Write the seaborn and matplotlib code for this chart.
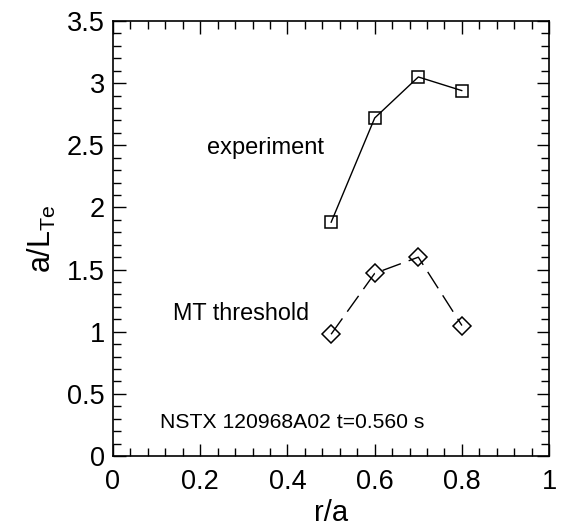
import matplotlib
matplotlib.use("Agg")
import matplotlib.pyplot as plt
import seaborn as sns
from matplotlib.ticker import MultipleLocator, FormatStrFormatter

# data
r_over_a = [0.5, 0.6, 0.7, 0.8]
experiment = [1.88, 2.72, 3.05, 2.94]
mt_threshold = [0.98, 1.47, 1.60, 1.05]

sns.set_style("ticks")
plt.rcParams["font.family"] = ["Liberation Sans", "DejaVu Sans"]
plt.rcParams["text.color"] = "black"
plt.rcParams["axes.labelcolor"] = "black"
plt.rcParams["xtick.color"] = "black"
plt.rcParams["ytick.color"] = "black"

fig = plt.figure(figsize=(5.65, 5.26), dpi=100)
ax = fig.add_axes([0.2, 0.133, 0.772, 0.827])

sns.lineplot(x=r_over_a, y=experiment, ax=ax, color="black", linewidth=1.0,
             marker="s", markersize=9, markerfacecolor="none",
             markeredgecolor="black", markeredgewidth=1.1)
sns.lineplot(x=r_over_a, y=mt_threshold, ax=ax, color="black", linewidth=1.0,
             dashes=(14, 6), marker="D", markersize=9.5, markerfacecolor="none",
             markeredgecolor="black", markeredgewidth=1.1)

ax.set_xlim(0, 1)
ax.set_ylim(0, 3.5)
ax.xaxis.set_major_locator(MultipleLocator(0.2))
ax.xaxis.set_minor_locator(MultipleLocator(0.04))
ax.yaxis.set_major_locator(MultipleLocator(0.5))
ax.yaxis.set_minor_locator(MultipleLocator(0.1))
ax.xaxis.set_major_formatter(FormatStrFormatter("%g"))
ax.yaxis.set_major_formatter(FormatStrFormatter("%g"))
ax.tick_params(which="both", direction="in", top=True, right=True,
               color="black", width=1.0, labelsize=19.5)
ax.tick_params(axis="x", which="major", pad=9)
ax.tick_params(axis="y", which="major", pad=6)
ax.tick_params(which="major", length=9)
ax.tick_params(which="minor", length=5.5)
for s in ax.spines.values():
    s.set_color("black")
    s.set_linewidth(1.2)

ax.set_xlabel("r/a", fontsize=21, labelpad=3)
ax.set_ylabel(r"a/L$_{\mathregular{Te}}$", fontsize=22, labelpad=6)

ax.text(0.215, 2.48, "experiment", fontsize=17, va="center")
ax.text(0.138, 1.15, "MT threshold", fontsize=16.8, va="center")
ax.text(0.108, 0.27, "NSTX 120968A02 t=0.560 s", fontsize=15.2, va="center")

fig.savefig("out.png", dpi=100)
